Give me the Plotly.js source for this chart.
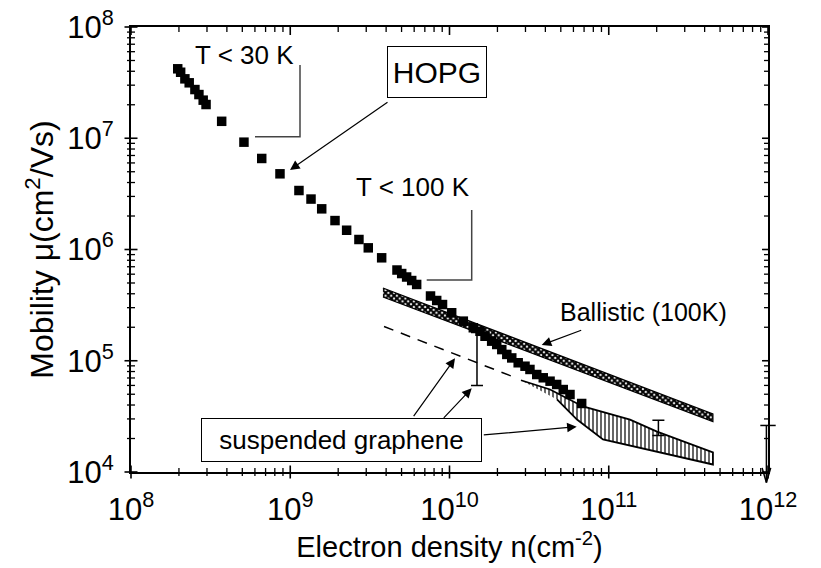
<!DOCTYPE html>
<html>
<head>
<meta charset="utf-8">
<script src="https://cdn.plot.ly/plotly-3.0.1.min.js"></script>
<style>html,body{margin:0;padding:0;background:#fff;}#chart{width:821px;height:568px;}</style>
</head>
<body>
<div id="chart"></div>
<script>
// ---- data ----
const nHOPG = [1.965e8, 2.05e8, 2.18e8, 2.32e8, 2.52e8, 2.67e8, 2.84e8, 2.96e8, 3.71e8, 5.12e8,
  6.62e8, 8.62e8, 1.134e9, 1.35e9, 1.576e9, 1.91e9, 2.26e9, 2.70e9, 3.09e9, 3.75e9,
  4.68e9, 5.01e9, 5.38e9, 5.79e9, 6.22e9, 7.60e9, 8.31e9, 9.04e9, 1.032e10, 1.221e10,
  1.411e10, 1.554e10, 1.671e10, 1.84e10, 1.98e10, 2.13e10, 2.29e10, 2.46e10, 2.70e10, 2.98e10,
  3.20e10, 3.53e10, 3.88e10, 4.28e10, 4.71e10, 5.18e10, 5.71e10, 6.76e10];
const muHOPG = [4.21e7, 3.92e7, 3.42e7, 3.15e7, 2.74e7, 2.47e7, 2.20e7, 2.01e7, 1.42e7, 9.22e6,
  6.58e6, 4.79e6, 3.39e6, 2.84e6, 2.32e6, 1.82e6, 1.49e6, 1.23e6, 1.035e6, 8.42e5,
  6.54e5, 6.08e5, 5.66e5, 5.26e5, 4.85e5, 3.82e5, 3.48e5, 3.20e5, 2.70e5, 2.27e5,
  1.98e5, 1.84e5, 1.66e5, 1.50e5, 1.40e5, 1.26e5, 1.14e5, 1.06e5, 9.59e4, 8.93e4,
  8.35e4, 7.52e4, 7.03e4, 6.55e4, 6.12e4, 5.51e4, 4.97e4, 4.13e4];

const nBallistic = [3.82e9, 4.51e11];
const muBallisticUpper = [4.51e5, 3.32e4];
const muBallisticLower = [3.74e5, 2.84e4];

const nSuspUpper = [2.81e10, 4.28e10, 6.89e10, 9.47e10, 1.36e11, 2.01e11, 4.51e11];
const muSuspUpper = [6.68e4, 5.52e4, 3.88e4, 3.43e4, 2.96e4, 2.31e4, 1.50e4];
const nSuspLower = [2.81e10, 4.73e10, 6.32e10, 9.20e10, 4.51e11];
const muSuspLower = [6.68e4, 4.49e4, 2.96e4, 1.96e4, 1.168e4];

const nDashed = [3.88e9, 2.58e10];
const muDashed = [2.03e5, 7.07e4];

const nErr = [1.488e10, 2.05e11];
const muErrLow = [6.0e4, 2.13e4];
const muErrHigh = [1.79e5, 2.92e4];

const nArrow = 1e12;
const muArrowTop = 2.62e4;
const muArrowTip = 8.06e3;

const xTickVals = [1e8, 1e9, 1e10, 1e11, 1e12];
const xTickText = ['10<sup>8</sup>', '10<sup>9</sup>', '10<sup>10</sup>', '10<sup>11</sup>', '10<sup>12</sup>'];
const yTickVals = [1e4, 1e5, 1e6, 1e7, 1e8];
const yTickText = ['10<sup>4</sup>', '10<sup>5</sup>', '10<sup>6</sup>', '10<sup>7</sup>', '10<sup>8</sup>'];
const minorDigits = [2, 3, 4, 5, 6, 7, 8, 9];

// minor tick positions (axis decoration): digits 2..9 inside every decade
const minorOf = decades => decades.slice(0, -1).flatMap(d => minorDigits.map(k => k * d));
const xMinor = minorOf(xTickVals);
const yMinor = minorOf(yTickVals);

const xRange = [8, 12];
const yRange = [4, 8];

// ---- geometry helpers (layout only) ----
const L = 131, R = 768, T = 27, B = 472;
const px = v => (v - L) / (R - L);
const py = v => (B - v) / (B - T);
const pxPerDecX = (R - L) / (xRange[1] - xRange[0]);
const pxPerDecY = (B - T) / (yRange[1] - yRange[0]);

const FONT = 'Liberation Sans, Arial, Helvetica, sans-serif';

const ballX = nBallistic.concat(nBallistic.slice().reverse());
const ballY = muBallisticUpper.concat(muBallisticLower.slice().reverse());
const suspX = nSuspUpper.concat(nSuspLower.slice(1).reverse());
const suspY = muSuspUpper.concat(muSuspLower.slice(1).reverse());

// tick-mark decoration drawn as line markers on the frame edges
function tickTrace(xs, ys, symbol, len, width) {
  return {x: xs, y: ys, mode: 'markers', cliponaxis: false, hoverinfo: 'skip',
    marker: {symbol: symbol, size: len / 1.4, color: 'black', line: {color: 'black', width: width}}};
}
const atY = (edge, offPx) => 10 ** (edge + offPx / pxPerDecY);
const atX = (edge, offPx) => 10 ** (edge + offPx / pxPerDecX);
const tickTraces = [
  tickTrace(xTickVals, xTickVals.map(() => atY(yRange[0], 0)), 'line-ns-open', 13, 1.6),
  tickTrace(xMinor, xMinor.map(() => atY(yRange[0], 0)), 'line-ns-open', 8, 1.3),
  tickTrace(xTickVals, xTickVals.map(() => atY(yRange[1], -4)), 'line-ns-open', 8, 1.6),
  tickTrace(xMinor, xMinor.map(() => atY(yRange[1], -2.5)), 'line-ns-open', 5, 1.3),
  tickTrace(yTickVals.map(() => atX(xRange[0], 0)), yTickVals, 'line-ew-open', 13, 1.6),
  tickTrace(yMinor.map(() => atX(xRange[0], 0)), yMinor, 'line-ew-open', 8, 1.3),
  tickTrace(yTickVals.map(() => atX(xRange[1], -3)), yTickVals, 'line-ew-open', 6, 1.6),
  tickTrace(yMinor.map(() => atX(xRange[1], -2)), yMinor, 'line-ew-open', 4, 1.3)
];

const traces = [
  {x: ballX, y: ballY, mode: 'lines', fill: 'toself', fillcolor: 'white',
   fillpattern: {shape: 'x', size: 4, solidity: 0.75, fgcolor: 'black', bgcolor: 'white'},
   line: {color: 'black', width: 1.2}, hoverinfo: 'skip'},
  {x: suspX, y: suspY, mode: 'lines', fill: 'toself', fillcolor: 'white',
   fillpattern: {shape: '|', size: 4, solidity: 0.3, fgcolor: 'black', bgcolor: 'white'},
   line: {color: 'black', width: 1.8}, hoverinfo: 'skip'},
  {x: nDashed, y: muDashed, mode: 'lines', line: {color: 'black', width: 1.5, dash: '10px,8px'}},
  {x: nHOPG, y: muHOPG, mode: 'markers',
   marker: {symbol: 'square', size: 9.5, color: 'black'}},
  {x: nErr, y: muErrLow, mode: 'markers', marker: {size: 1, opacity: 0},
   error_y: {type: 'data', symmetric: false,
     array: muErrHigh.map((v, i) => v - muErrLow[i]), arrayminus: muErrLow.map(() => 0),
     width: 6, thickness: 1.5, color: 'black'}},
  {x: [nArrow], y: [muArrowTop], mode: 'markers', cliponaxis: false,
   marker: {symbol: 'line-ew-open', size: 11, color: 'black', line: {color: 'black', width: 1.5}}}
].concat(tickTraces);

const axCommon = {
  type: 'log', showline: true, mirror: true, linecolor: 'black', linewidth: 2,
  showgrid: false, zeroline: false, ticks: 'outside', ticklen: 9,
  tickcolor: 'rgba(0,0,0,0)', tickwidth: 1.5, tickmode: 'array'
};

const arrowBase = {xref: 'paper', yref: 'paper', text: '', showarrow: true,
  arrowhead: 2, arrowsize: 1.6, arrowwidth: 1.2, arrowcolor: 'black',
  standoff: 0, font: {size: 1}, borderpad: 0};

const lgTop = Math.log10(muArrowTop), lgTip = Math.log10(muArrowTip), lgN = Math.log10(nArrow);

const layout = {
  width: 821, height: 568,
  margin: {l: 131, r: 53, t: 27, b: 96},
  paper_bgcolor: 'white', plot_bgcolor: 'white',
  showlegend: false,
  font: {family: FONT, color: 'black'},
  xaxis: Object.assign({}, axCommon, {
    range: xRange,
    tickvals: xTickVals, ticktext: xTickText, tickfont: {size: 31, family: FONT},
    title: {text: 'Electron density n(cm<sup>-2</sup>)', font: {size: 29, family: FONT}, standoff: 2}
  }),
  yaxis: Object.assign({}, axCommon, {
    range: yRange,
    tickvals: yTickVals, ticktext: yTickText, tickfont: {size: 31, family: FONT},
    title: {text: 'Mobility \u03bc(cm<sup>2</sup>/Vs)', font: {size: 32, family: FONT}, standoff: 4}
  }),
  shapes: [
    {type: 'path', xref: 'paper', yref: 'paper',
     path: `M ${px(255)} ${py(136.7)} L ${px(300)} ${py(136.7)} L ${px(300)} ${py(65)}`,
     line: {color: '#444', width: 1.5}},
    {type: 'path', xref: 'paper', yref: 'paper',
     path: `M ${px(426.7)} ${py(280)} L ${px(471.7)} ${py(280)} L ${px(471.7)} ${py(210)}`,
     line: {color: '#444', width: 1.5}}
  ],
  annotations: [
    {xref: 'paper', yref: 'paper', x: px(244), y: py(55), text: 'T &lt; 30 K', showarrow: false,
     font: {size: 26, family: FONT}, xanchor: 'center', yanchor: 'middle'},
    {xref: 'paper', yref: 'paper', x: px(412.5), y: py(187), text: 'T &lt; 100 K', showarrow: false,
     font: {size: 26, family: FONT}, xanchor: 'center', yanchor: 'middle'},
    {xref: 'paper', yref: 'paper', x: px(643.5), y: py(312), text: 'Ballistic (100K)', showarrow: false,
     font: {size: 25, family: FONT}, xanchor: 'center', yanchor: 'middle'},
    {xref: 'paper', yref: 'paper', x: px(437), y: py(72), text: 'HOPG', showarrow: false,
     font: {size: 30, family: FONT}, xanchor: 'center', yanchor: 'middle',
     bordercolor: 'black', borderwidth: 1, borderpad: 0, width: 98, height: 50, bgcolor: 'white'},
    {xref: 'paper', yref: 'paper', x: px(341.5), y: py(440), text: 'suspended graphene', showarrow: false,
     font: {size: 26, family: FONT}, xanchor: 'center', yanchor: 'middle',
     bordercolor: 'black', borderwidth: 1, borderpad: 0, width: 279, height: 42, bgcolor: 'white'},
    Object.assign({}, arrowBase, {x: px(290), y: py(170), ax: 98, ay: -68}),
    Object.assign({}, arrowBase, {x: px(541.7), y: py(345), ax: 40, ay: -15}),
    Object.assign({}, arrowBase, {x: px(455), y: py(358.3), ax: -41.7, ay: 58.4}),
    Object.assign({}, arrowBase, {x: px(471.7), y: py(388.3), ax: -28.4, ay: 30}),
    Object.assign({}, arrowBase, {x: px(576.7), y: py(426.7), ax: -93.4, ay: 8.3}),
    // arrow at 10^12 going to zero
    {xref: 'x', yref: 'y', axref: 'x', ayref: 'y', x: lgN - 0.01, y: lgTip, ax: lgN - 0.01, ay: lgTop,
     text: '', showarrow: true, arrowhead: 0, arrowwidth: 1.5, arrowcolor: 'black',
     standoff: 0, font: {size: 1}, borderpad: 0},
    {xref: 'x', yref: 'y', axref: 'x', ayref: 'y', x: lgN - 0.01, y: lgTip, ax: lgN - 0.038, ay: lgTip + 0.135,
     text: '', showarrow: true, arrowhead: 0, arrowwidth: 1.5, arrowcolor: 'black',
     standoff: 0, font: {size: 1}, borderpad: 0},
    {xref: 'x', yref: 'y', axref: 'x', ayref: 'y', x: lgN - 0.01, y: lgTip, ax: lgN + 0.018, ay: lgTip + 0.135,
     text: '', showarrow: true, arrowhead: 0, arrowwidth: 1.5, arrowcolor: 'black',
     standoff: 0, font: {size: 1}, borderpad: 0}
  ]
};

Plotly.newPlot('chart', traces, layout, {displayModeBar: false, staticPlot: true});
</script>
</body>
</html>
